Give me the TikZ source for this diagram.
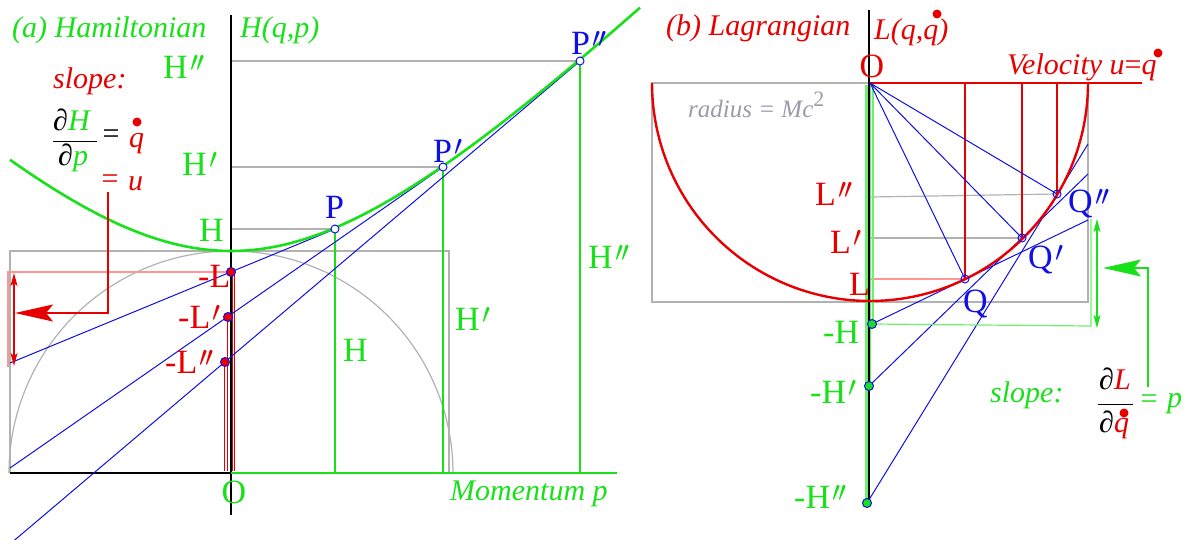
\RequirePackage{fix-cm}
\documentclass[tikz,border=0pt]{standalone}
\usepackage{graphicx}
\usepackage{fontspec}
\setmainfont{Liberation Serif}
\usetikzlibrary{arrows.meta}
\definecolor{hg}{RGB}{25,225,25}
\definecolor{lg}{RGB}{110,240,110}
\definecolor{hr}{RGB}{232,0,0}
\definecolor{pinkc}{RGB}{255,150,150}
\definecolor{hb}{RGB}{15,15,230}
\definecolor{gl}{RGB}{178,178,178}
\definecolor{gtxt}{RGB}{155,155,170}
\newcommand\pr{\kern0.07em\raisebox{0.2em}{\scalebox{0.85}{$\prime$}}}
\newcommand\ppr{\pr\kern-0.12em\pr}
\begin{document}
\begin{tikzpicture}[x=1pt,y=-1pt,
  up/.style={inner sep=0pt, font=\fontsize{34}{34}\selectfont},
  it/.style={inner sep=0pt, font=\fontsize{30}{30}\selectfont\itshape},
  fr/.style={inner sep=0pt, font=\fontsize{30}{30}\selectfont},
  grayln/.style={draw=gl, line width=1.2pt},
  blueln/.style={draw=hb, line width=1pt},
  greenln/.style={draw=hg, line width=1.4pt},
  lgreenln/.style={draw=lg, line width=1.2pt},
  redln/.style={draw=hr, line width=1.4pt},
  dblred/.style={draw=hr, line width=0.8pt, double=white, double distance=0.8pt},
  bandg/.style={draw=lg, line width=2.2pt},
  pt/.style={draw=hb, line width=1pt, fill=white},
  qpt/.style={draw=hb, line width=1pt},
  ldot/.style={draw=hb, line width=1pt, fill=hr},
  hdot/.style={draw=hb, line width=1pt, fill=hg},
  bigarrow/.style={-{Stealth[length=38pt,width=17pt,inset=7pt]}},
  dblarrow/.style={{Stealth[length=13pt,width=7pt,inset=3pt]}-{Stealth[length=13pt,width=7pt,inset=3pt]}}
]
\useasboundingbox (0,0) rectangle (1186,539);

% ================= panel (a) =================
\coordinate (Oa) at (231,473);
\coordinate (P0) at (335,229);
\coordinate (P1) at (443,167);
\coordinate (P2) at (580,61);
\coordinate (L0) at (231,272);
\coordinate (L1) at (228,317);
\coordinate (L2) at (225,362);
\coordinate (T0) at (10,363);
\coordinate (T1) at (10,468);
\coordinate (T2) at (10,544);

% gray construction
\draw[grayln] (10,473) -- (10,251) -- (449,251) -- (449,473);
\draw[grayln] plot[domain=180:0, samples=120] ({231+222*cos(\x)},{473-222*sin(\x)});
\draw[grayln] (231,61) -- (P2);
\draw[grayln] (231,167) -- (P1);
\draw[grayln] (231,229) -- (P0);
% pink slope box
\draw[draw=pinkc, line width=1.2pt] (L0) -| (8,367);

% axes
\draw[black, line width=1.6pt] (231,15) -- (231,515);
\draw[black, line width=1.6pt] (10,473) -- (Oa);
\draw[hg, line width=1.8pt] (Oa) -- (617,473);

% green heights
\draw[greenln] (P0) -- (P0 |- Oa);
\draw[greenln] (P1) -- (P1 |- Oa);
\draw[greenln] (P2) -- (P2 |- Oa);
% red -L lines
\draw[dblred] (233.5,272) -- (233.5,471);
\draw[dblred] (L1) -- (228,471);
\draw[dblred] (L2) -- (225,471);

% tangents
\draw[blueln] (T0) -- (P0);
\draw[blueln] (T1) -- (P1);
\draw[blueln] (T2) -- (P2);

% Hamiltonian curve
\draw[hg, line width=2.6pt] plot[domain=10:640, samples=120] (\x,{473-100*sqrt(((\x-231)/100)^2+4.9284)});

% slope arrows
\coordinate (ua) at (108,192);
\coordinate (uc) at (15,313);
\draw[redln, bigarrow] (ua) |- (uc);
\coordinate (da) at (14,273);
\coordinate (db) at (14,366);
\draw[redln, dblarrow] (da) -- (db);

% points
\draw[pt] (P0) circle[radius=4pt];
\draw[pt] (P1) circle[radius=4pt];
\draw[pt] (P2) circle[radius=4pt];
\draw[ldot] (L0) circle[radius=4.5pt];
\draw[ldot] (L1) circle[radius=4.5pt];
\draw[ldot] (L2) circle[radius=4.5pt];

% labels
\node[it, text=hg, anchor=base west] (ta) at (12,37) {(a) Hamiltonian};
\node[it, text=hg, anchor=base west] (Hqp) at (240,37) {H(q,p)};
\node[up, text=hg, anchor=base west] (lH2) at (163,78) {H\ppr};
\node[up, text=hg, anchor=base west] (lH1) at (182,175) {H\pr};
\node[up, text=hg, anchor=base west] (lH0) at (199,241) {H};
\node[up, text=hg, anchor=base west] (vH0) at (343,361) {H};
\node[up, text=hg, anchor=base west] (vH1) at (455,330) {H\pr};
\node[up, text=hg, anchor=base west] (vH2) at (588,268) {H\ppr};
\node[up, text=hb, anchor=base west] (lP0) at (325,218) {P};
\node[up, text=hb, anchor=base west] (lP1) at (433,162) {P\pr};
\node[up, text=hb, anchor=base west] (lP2) at (571,54) {P\ppr};
\node[up, text=hr, anchor=base west] (lL0) at (198,287) {-L};
\node[up, text=hr, anchor=base west] (lL1) at (178,328) {-L\pr};
\node[up, text=hr, anchor=base west] (lL2) at (165,373) {-L\ppr};
\node[up, text=hg, anchor=base] (lOa) at (234,503) {O};
\node[it, text=hg, anchor=base west] (mom) at (450,500) {Momentum p};

\node[it, text=hr, anchor=base west] (slA) at (53,88) {slope:};
\node[fr, anchor=base west] (numA) at (53,130) {∂\textcolor{hg}{\itshape H}};
\draw[black, line width=1pt] (53,141) -- (97,141);
\node[fr, anchor=base west] (denA) at (58,165) {∂\textcolor{hg}{\itshape p}};
\node[fr, anchor=center] (eqA) at (111,137) {=};
\node[it, text=hr, anchor=base west] (qA) at (129,147) {q};
\fill[hr] (137,122) circle[radius=4.5pt];
\node[fr, text=hr, anchor=center] (eqB) at (110,182) {=};
\node[it, text=hr, anchor=base west] (uA) at (128,190) {u};

% ================= panel (b) =================
\coordinate (Ob) at (870,83);
\coordinate (Q0) at (965,279);
\coordinate (Q1) at (1022,238);
\coordinate (Q2) at (1057,194);
\coordinate (H0) at (872,324);
\coordinate (H1) at (869,386);
\coordinate (H2) at (867,503);
\coordinate (E0) at (1088,220);
\coordinate (E1) at (1088,174);
\coordinate (E2) at (1088,144);

% gray construction
\draw[grayln] (652,83) rectangle (1088,302);
\draw[grayln] (870,197) -- (Q2);
\draw[grayln] (870,238) -- (Q1);
\draw[draw=pinkc, line width=1.2pt] (870,279) -- (Q0);

% green band along the axis
\draw[bandg] (873,85) -- (873,324);
\draw[bandg] (870,85) -- (870,386);
\draw[bandg] (866.5,85) -- (866.5,503);
\draw[black, line width=1.6pt] (869,10) -- (869,505);

% velocity axis and verticals
\draw[redln] (Ob) -- (1142,83);
\draw[redln] (Q0) -- (Q0 |- Ob);
\draw[redln] (Q1) -- (Q1 |- Ob);
\draw[redln] (Q2) -- (Q2 |- Ob);

% radial blue lines
\draw[blueln] (Ob) -- (Q0);
\draw[blueln] (Ob) -- (Q1);
\draw[blueln] (Ob) -- (Q2);
% tangents
\draw[blueln] (H0) -- (E0);
\draw[blueln] (H1) -- (E1);
\draw[blueln] (H2) -- (E2);

% Lagrangian circle
\draw[hr, line width=2.4pt] plot[domain=0:180, samples=120] ({870+218*cos(\x)},{83+218*sin(\x)});

% green slope bracket and arrows
\draw[lgreenln] (H0) -- (1091,326) -- (1091,219);
\coordinate (ga) at (1097,219);
\coordinate (gb) at (1097,328);
\draw[hg, line width=1.2pt, dblarrow] (ga) -- (gb);
\coordinate (gs) at (1148,387);
\coordinate (gt) at (1103,268);
\draw[hg, line width=1.4pt, bigarrow] (gs) |- (gt);

% points
\draw[qpt] (Q0) circle[radius=4pt];
\draw[qpt] (Q1) circle[radius=4pt];
\draw[qpt] (Q2) circle[radius=4pt];
\draw[hdot] (H0) circle[radius=4.5pt];
\draw[hdot] (H1) circle[radius=4.5pt];
\draw[hdot] (H2) circle[radius=4.5pt];

% labels
\node[it, text=hr, anchor=base west] (tb) at (666,35) {(b) Lagrangian};
\node[it, text=hr, anchor=base west] (Lqq) at (874,39) {L(q,q)};
\fill[hr] (937,14) circle[radius=4.5pt];
\node[up, text=hr, anchor=base] (lOb) at (872,77) {O};
\node[it, text=hr, anchor=base west] (vel) at (1007,74) {Velocity u\upshape=\itshape q};
\fill[hr] (1158,53) circle[radius=4.5pt];
\node[inner sep=0pt, text=gtxt, font=\fontsize{25}{25}\selectfont\itshape, anchor=base west] (rad) at (688,117) {radius = Mc\raisebox{0.42em}{\upshape\fontsize{22}{22}\selectfont 2}};
\node[up, text=hr, anchor=base west] (lL2b) at (815,205) {L\ppr};
\node[up, text=hr, anchor=base west] (lL1b) at (830,253) {L\pr};
\node[up, text=hr, anchor=base west] (lL0b) at (849,295) {L};
\node[up, text=hg, anchor=base west] (lmH0) at (823,343) {-H};
\node[up, text=hg, anchor=base west] (lmH1) at (810,403) {-H\pr};
\node[up, text=hg, anchor=base west] (lmH2) at (794,508) {-H\ppr};
\node[up, text=hb, anchor=base west] (lQ0) at (963,312) {Q};
\node[up, text=hb, anchor=base west] (lQ1) at (1028,268) {Q\pr};
\node[up, text=hb, anchor=base west] (lQ2) at (1068,212) {Q\ppr};

\node[it, text=hg, anchor=base west] (slB) at (990,402) {slope:};
\node[fr, anchor=base west] (numB) at (1099,389) {∂\textcolor{hr}{\itshape L}};
\draw[black, line width=1pt] (1098,404) -- (1133,404);
\node[fr, anchor=base west] (denB) at (1099,432) {∂\textcolor{hr}{\itshape q}};
\fill[hr] (1124,413) circle[radius=4.5pt];
\node[fr, text=hg, anchor=center] (eqC) at (1149,402) {=};
\node[it, text=hg, anchor=base west] (pB) at (1167,407) {p};
\end{tikzpicture}
\end{document}
